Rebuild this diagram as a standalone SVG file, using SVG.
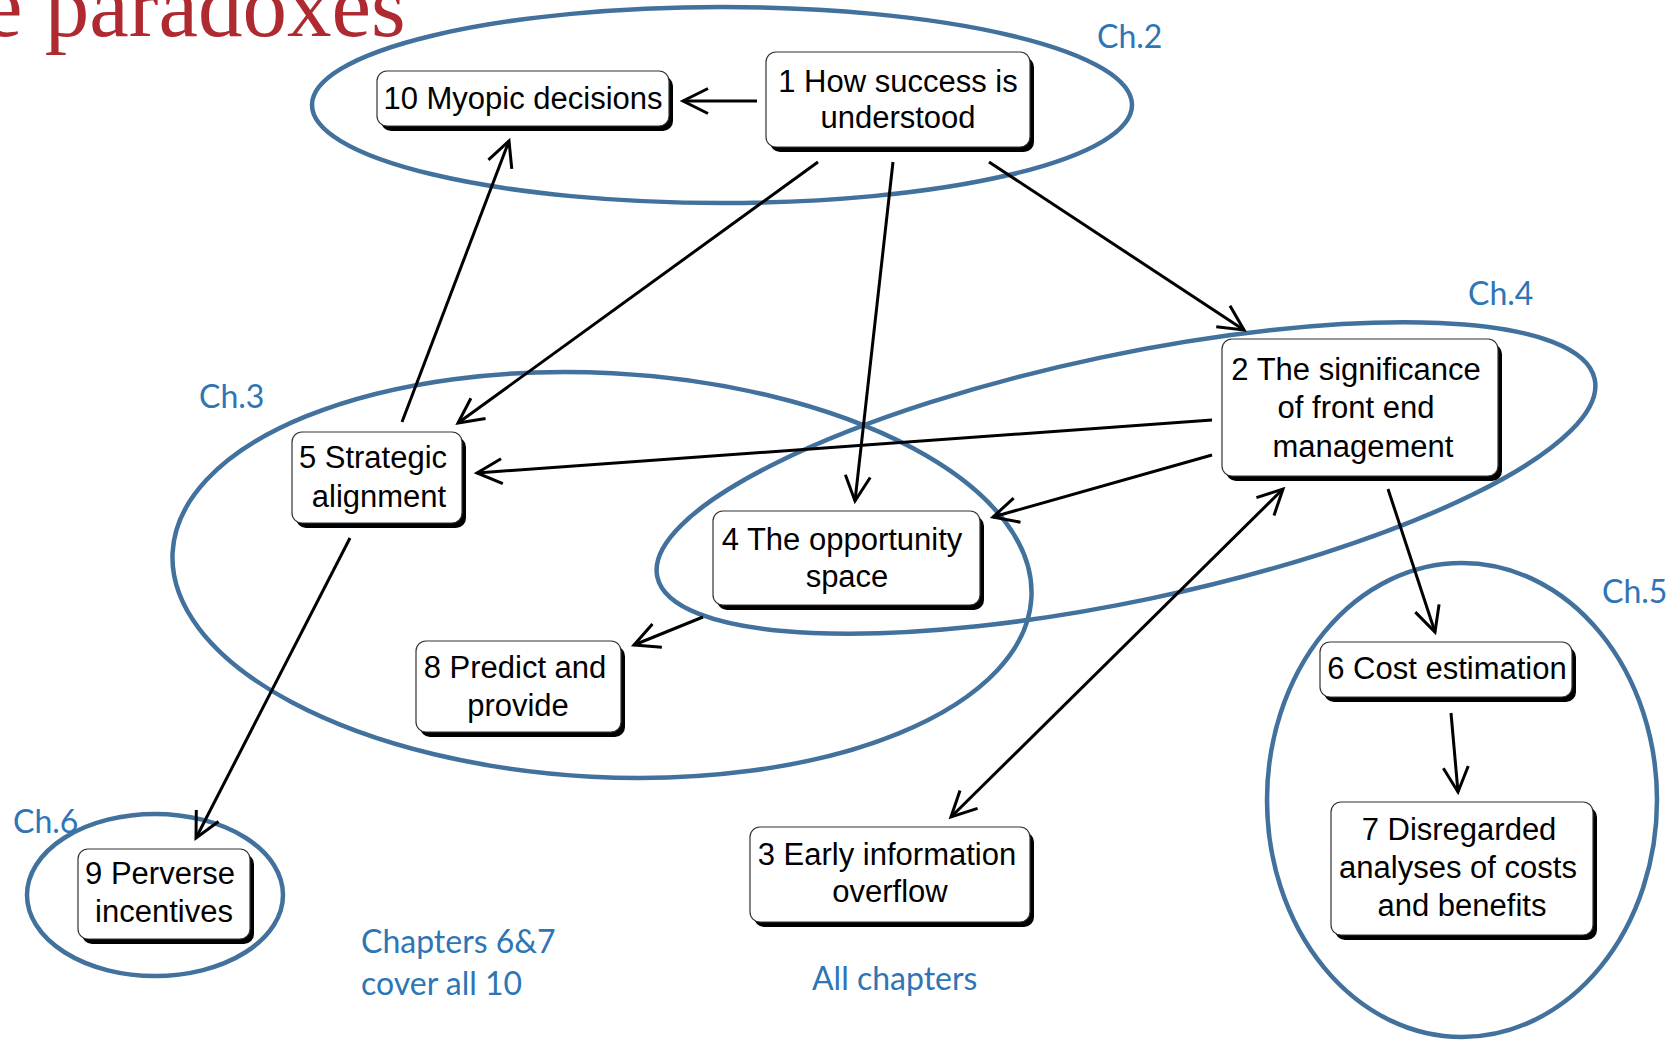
<svg xmlns="http://www.w3.org/2000/svg" width="1680" height="1040" viewBox="0 0 1680 1040">
  <defs>
    <style>
      .title { font-family: "Liberation Serif", "Times New Roman", serif; font-size: 89px; fill: #AE2A30; }
      .chap { fill: none; stroke: #41719C; stroke-width: 4.5; }
      .clabel { font-family: Lato, "Open Sans", sans-serif; font-size: 32px; fill: #2E75B6; }
      .shadow { fill: #000; }
      .box { fill: #fff; stroke: #333; stroke-width: 1.2; }
      .ntext { font-family: "Liberation Sans", Arial, sans-serif; font-size: 31px; fill: #000; text-anchor: middle; }
      .edge { fill: none; stroke: #000; stroke-width: 3; marker-end: url(#arrow); }
      .both { marker-start: url(#arrow); }
    </style>
    <marker id="arrow" viewBox="-30 -16 34 32" markerWidth="34" markerHeight="32" refX="0" refY="0" markerUnits="userSpaceOnUse" orient="auto-start-reverse">
      <path d="M-25,-12.5 L0,0 L-25,12.5" fill="none" stroke="#000" stroke-width="3" stroke-linejoin="miter"/>
    </marker>
  </defs>

  <rect width="1680" height="1040" fill="#fff"/>

  <!-- heading, cut at the page edge -->
  <text class="title" x="-17" y="36">e paradoxes</text>

  <!-- chapter groupings -->
  <g id="chapters">
    <ellipse class="chap" cx="722" cy="105" rx="410" ry="98"/>
    <ellipse class="chap" cx="602" cy="575" rx="430" ry="202" transform="rotate(3 602 575)"/>
    <ellipse class="chap" cx="1126" cy="478" rx="479" ry="123" transform="rotate(-11.9 1126 478)"/>
    <ellipse class="chap" cx="1462" cy="800" rx="195" ry="237"/>
    <ellipse class="chap" cx="155" cy="895" rx="128" ry="81"/>
    <text class="clabel" x="1097" y="48">Ch.2</text>
    <text class="clabel" x="199" y="408">Ch.3</text>
    <text class="clabel" x="1468" y="305">Ch.4</text>
    <text class="clabel" x="1602" y="603">Ch.5</text>
    <text class="clabel" x="13" y="833">Ch.6</text>
    <text class="clabel" x="361" y="953">Chapters 6&amp;7</text>
    <text class="clabel" x="361" y="995">cover all 10</text>
    <text class="clabel" x="812" y="990">All chapters</text>
  </g>

  <!-- connectors -->
  <g id="connectors">
    <line class="edge" x1="757" y1="101" x2="683" y2="101"/>
    <line class="edge" x1="402" y1="422" x2="509" y2="141"/>
    <line class="edge" x1="818" y1="162" x2="458" y2="423"/>
    <line class="edge" x1="893" y1="162" x2="855" y2="501"/>
    <line class="edge" x1="989" y1="162" x2="1244" y2="330"/>
    <line class="edge" x1="1212" y1="420" x2="477" y2="473"/>
    <line class="edge" x1="1212" y1="455" x2="993" y2="517"/>
    <line class="edge both" x1="951" y1="817" x2="1283" y2="489"/>
    <line class="edge" x1="1388" y1="489" x2="1435" y2="632"/>
    <line class="edge" x1="1451" y1="713" x2="1458" y2="792"/>
    <line class="edge" x1="703" y1="617" x2="634" y2="645"/>
    <line class="edge" x1="350" y1="538" x2="196" y2="838"/>
  </g>

  <!-- paradox nodes -->
  <g id="node1">
    <rect class="shadow" x="770" y="57" width="264" height="95" rx="10"/>
    <rect class="box" x="766" y="52" width="264" height="95" rx="10"/>
    <text class="ntext" x="898" y="92">1 How success is</text>
    <text class="ntext" x="898" y="128">understood</text>
  </g>
  <g id="node10">
    <rect class="shadow" x="381" y="76" width="292" height="55" rx="10"/>
    <rect class="box" x="377" y="71" width="292" height="55" rx="10"/>
    <text class="ntext" x="523" y="109">10 Myopic decisions</text>
  </g>
  <g id="node2">
    <rect class="shadow" x="1226" y="344" width="276" height="137" rx="10"/>
    <rect class="box" x="1222" y="339" width="276" height="137" rx="10"/>
    <text class="ntext" x="1356" y="380">2 The significance</text>
    <text class="ntext" x="1356" y="418">of front end</text>
    <text class="ntext" x="1363" y="457">management</text>
  </g>
  <g id="node5">
    <rect class="shadow" x="296" y="437" width="170" height="91" rx="10"/>
    <rect class="box" x="292" y="432" width="170" height="91" rx="10"/>
    <text class="ntext" x="373" y="468">5 Strategic</text>
    <text class="ntext" x="379" y="507">alignment</text>
  </g>
  <g id="node4">
    <rect class="shadow" x="717" y="516" width="267" height="94" rx="10"/>
    <rect class="box" x="713" y="511" width="267" height="94" rx="10"/>
    <text class="ntext" x="842" y="550">4 The opportunity</text>
    <text class="ntext" x="847" y="587">space</text>
  </g>
  <g id="node8">
    <rect class="shadow" x="420" y="646" width="205" height="91" rx="10"/>
    <rect class="box" x="416" y="641" width="205" height="91" rx="10"/>
    <text class="ntext" x="515" y="678">8 Predict and</text>
    <text class="ntext" x="518" y="716">provide</text>
  </g>
  <g id="node6">
    <rect class="shadow" x="1324" y="647" width="252" height="55" rx="10"/>
    <rect class="box" x="1320" y="642" width="252" height="55" rx="10"/>
    <text class="ntext" x="1447" y="679">6 Cost estimation</text>
  </g>
  <g id="node7">
    <rect class="shadow" x="1335" y="807" width="262" height="133" rx="10"/>
    <rect class="box" x="1331" y="802" width="262" height="133" rx="10"/>
    <text class="ntext" x="1459" y="840">7 Disregarded</text>
    <text class="ntext" x="1458" y="878">analyses of costs</text>
    <text class="ntext" x="1462" y="916">and benefits</text>
  </g>
  <g id="node9">
    <rect class="shadow" x="82" y="854" width="172" height="90" rx="10"/>
    <rect class="box" x="78" y="849" width="172" height="90" rx="10"/>
    <text class="ntext" x="160" y="884">9 Perverse</text>
    <text class="ntext" x="164" y="922">incentives</text>
  </g>
  <g id="node3">
    <rect class="shadow" x="754" y="832" width="280" height="95" rx="10"/>
    <rect class="box" x="750" y="827" width="280" height="95" rx="10"/>
    <text class="ntext" x="887" y="865">3 Early information</text>
    <text class="ntext" x="890" y="902">overflow</text>
  </g>
</svg>
